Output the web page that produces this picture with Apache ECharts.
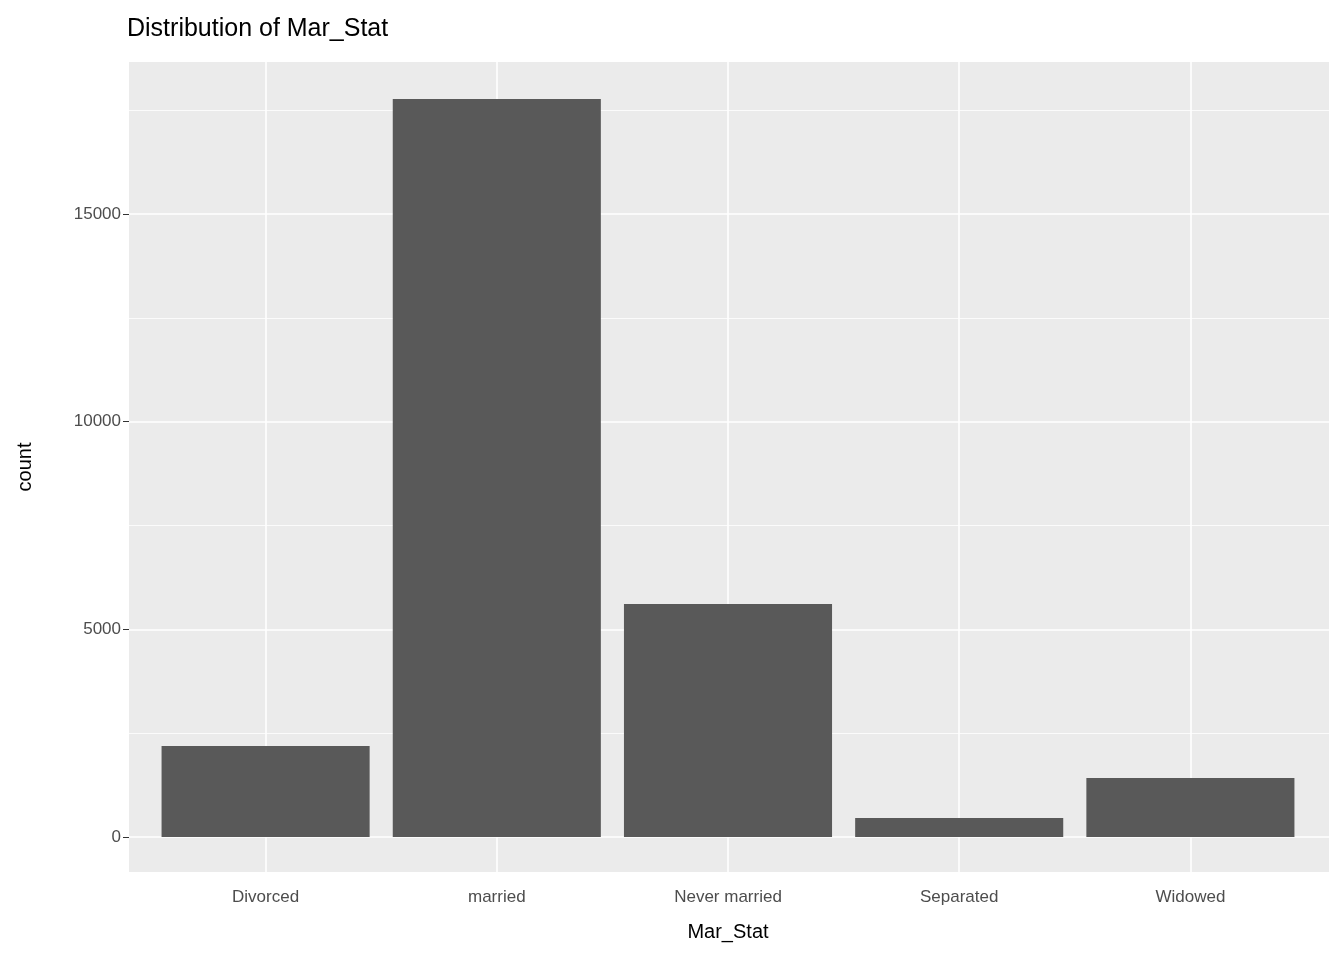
<!DOCTYPE html>
<html>
<head>
<meta charset="utf-8">
<script src="https://cdn.jsdelivr.net/npm/echarts@6/dist/echarts.min.js"></script>
<style>html,body{margin:0;background:#fff}#main{width:1344px;height:960px}</style>
</head>
<body>
<div id="main"></div>
<script>
// data
const categories = ['Divorced', 'married', 'Never married', 'Separated', 'Widowed'];
const counts = [2190, 17766, 5609, 457, 1420];
const majorTicks = [0, 5000, 10000, 15000];
const minorTicks = [2500, 7500, 12500, 17500];

const myChart = echarts.init(document.getElementById('main'));
const hLines = [];
majorTicks.forEach(v => hLines.push({ yAxis: v, lineStyle: { color: '#fff', width: 1.6, type: 'solid' } }));
minorTicks.forEach(v => hLines.push({ yAxis: v, lineStyle: { color: '#fff', width: 0.8, type: 'solid' } }));
const vLines = categories.map(c => ({ xAxis: c, lineStyle: { color: '#fff', width: 1.6, type: 'solid' } }));

const yMin = -843, yMax = 18657;

myChart.setOption({
  animation: false,
  textStyle: { fontFamily: 'Liberation Sans, Arial, sans-serif' },
  title: { text: 'Distribution of Mar_Stat', left: 122, top: 12,
    textStyle: { fontSize: 25, fontWeight: 'normal', color: '#000' } },
  grid: [
    { left: 129, right: 15, top: 62, bottom: 88, show: true, backgroundColor: '#ebebeb', borderWidth: 0 },
    { left: 150, right: 38, top: 62, bottom: 88, show: false }
  ],
  xAxis: [
    { gridIndex: 0, type: 'value', min: 0, max: 1, show: false },
    {
      gridIndex: 1, type: 'category', data: categories,
      name: 'Mar_Stat', nameLocation: 'middle', nameGap: 50,
      nameTextStyle: { fontSize: 20, color: '#000' },
      axisLine: { show: false },
      axisTick: { alignWithLabel: true, length: 7, lineStyle: { color: '#333' } },
      axisLabel: { fontSize: 17, color: '#4d4d4d', margin: 17 },
      splitLine: { show: false }
    }
  ],
  yAxis: [
    { gridIndex: 0, type: 'value', min: yMin, max: yMax, show: false },
    {
      gridIndex: 1, type: 'value', min: yMin, max: yMax, offset: 21,
      name: 'count', nameLocation: 'middle', nameGap: 94, nameRotate: 90,
      nameTextStyle: { fontSize: 20, color: '#000' },
      axisLine: { show: false },
      axisTick: { show: true, length: 6, customValues: majorTicks, lineStyle: { color: '#333' } },
      axisLabel: { fontSize: 17, color: '#4d4d4d', customValues: majorTicks, margin: 8,
        formatter: v => String(v) },
      splitLine: { show: false }
    }
  ],
  series: [
    { type: 'line', xAxisIndex: 0, yAxisIndex: 0, data: [], zlevel: 0, silent: true,
      markLine: { silent: true, symbol: 'none', label: { show: false }, data: hLines } },
    { type: 'line', xAxisIndex: 1, yAxisIndex: 1, data: [], zlevel: 0, silent: true,
      markLine: { silent: true, symbol: 'none', label: { show: false }, data: vLines } },
    { type: 'bar', xAxisIndex: 1, yAxisIndex: 1, data: counts, zlevel: 1,
      barCategoryGap: '10%', itemStyle: { color: '#595959' } }
  ]
});
window.onresize = function () { myChart.resize(); };
</script>
</body>
</html>
